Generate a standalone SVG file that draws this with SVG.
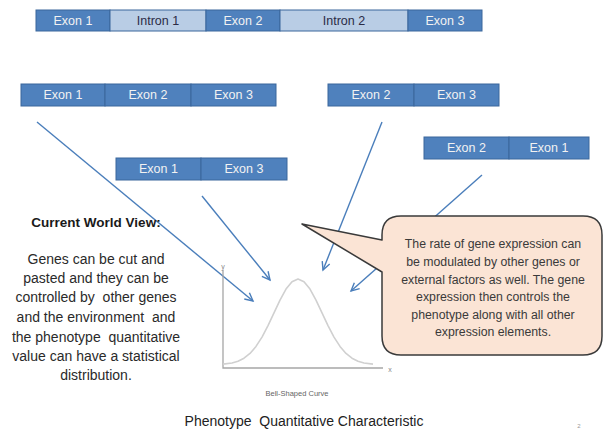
<svg xmlns="http://www.w3.org/2000/svg" width="604" height="429" viewBox="0 0 604 429">
<style>
text{white-space:pre}
.ex{fill:#4f81bd;stroke:#3b679c;stroke-width:1}
.in{fill:#b9cde5;stroke:#3b679c;stroke-width:1}
.lb{font-family:"Liberation Sans",Arial,sans-serif;font-size:12.5px;text-anchor:middle;dominant-baseline:central}
.lw{fill:#f2f2f2}
.ld{fill:#2b2b45}
.body{font-family:"Liberation Sans",Arial,sans-serif;font-size:14px;text-anchor:middle;fill:#2a2a2a}
.call{font-family:"Liberation Sans",Arial,sans-serif;font-size:12.3px;text-anchor:middle;fill:#3a3a3a}
.con{stroke:#4a7ebb;stroke-width:1.4;fill:none;marker-end:url(#ah)}
</style>
<defs>
<marker id="ah" markerUnits="userSpaceOnUse" markerWidth="12" markerHeight="12" refX="9" refY="5" orient="auto">
<path d="M1,1 L9,5 L1,9" fill="none" stroke="#4a7ebb" stroke-width="1.4"/>
</marker>
</defs>

<g id="gene">
<rect class="ex" x="36" y="10" width="74" height="21"/><text class="lb lw" x="73" y="20.5">Exon 1</text>
<rect class="in" x="110" y="10" width="96" height="21"/><text class="lb ld" x="158" y="20.5">Intron 1</text>
<rect class="ex" x="206" y="10" width="74" height="21"/><text class="lb lw" x="243" y="20.5">Exon 2</text>
<rect class="in" x="280" y="10" width="128" height="21"/><text class="lb ld" x="344" y="20.5">Intron 2</text>
<rect class="ex" x="408" y="10" width="74" height="21"/><text class="lb lw" x="445" y="20.5">Exon 3</text>
</g>

<g id="splice123">
<rect class="ex" x="21" y="84" width="84" height="22"/><text class="lb lw" x="63" y="95">Exon 1</text>
<rect class="ex" x="105" y="84" width="86" height="22"/><text class="lb lw" x="148" y="95">Exon 2</text>
<rect class="ex" x="191" y="84" width="85" height="22"/><text class="lb lw" x="233.5" y="95">Exon 3</text>
</g>

<g id="splice13">
<rect class="ex" x="116" y="158" width="85" height="22"/><text class="lb lw" x="158.5" y="169">Exon 1</text>
<rect class="ex" x="201" y="158" width="86" height="22"/><text class="lb lw" x="244" y="169">Exon 3</text>
</g>

<g id="splice23">
<rect class="ex" x="328" y="84" width="86" height="22"/><text class="lb lw" x="371" y="95">Exon 2</text>
<rect class="ex" x="414" y="84" width="85" height="22"/><text class="lb lw" x="456.5" y="95">Exon 3</text>
</g>

<g id="splice21">
<rect class="ex" x="424" y="137" width="85" height="22"/><text class="lb lw" x="466.5" y="148">Exon 2</text>
<rect class="ex" x="509" y="137" width="80" height="22"/><text class="lb lw" x="549" y="148">Exon 1</text>
</g>

<g id="connectors">
<line class="con" x1="37" y1="122" x2="253" y2="301"/>
<line class="con" x1="202" y1="196" x2="270" y2="280"/>
<line class="con" x1="382" y1="122" x2="323" y2="270"/>
<line class="con" x1="482" y1="175" x2="351" y2="291"/>
</g>

<g id="worldview">
<text x="96" y="227" font-family="'Liberation Sans',Arial,sans-serif" font-size="13.5" font-weight="bold" text-anchor="middle" fill="#1a1a1a">Current World View:</text>
<text class="body" x="96" y="264">Genes can be cut and</text>
<text class="body" x="96" y="283">pasted and they can be</text>
<text class="body" x="96" y="302">controlled by  other genes</text>
<text class="body" x="96" y="322">and the environment  and</text>
<text class="body" x="96" y="342">the phenotype  quantitative</text>
<text class="body" x="96" y="361">value can have a statistical</text>
<text class="body" x="96" y="380">distribution.</text>
</g>

<g id="chart">
<polyline points="223,270 223,368 383,368" fill="none" stroke="#a6a6a6" stroke-width="1.3"/>
<polyline points="223,364.1 232,363 238,361.2 244,358.2 250,353.4 256,346.4 262,337.1 268,325.6 274,312.8 280,300.1 286,289.1 292,281.7 298,279 304,281.7 310,289.1 316,300.1 322,312.8 328,325.6 334,337.1 340,346.4 346,353.4 352,358.2 358,361.2 364,363 373,364.1" fill="none" stroke="#d0d0d0" stroke-width="1.6" stroke-linejoin="round"/>
<text x="223" y="269" font-family="'Liberation Sans',Arial,sans-serif" font-size="7" fill="#888" text-anchor="middle">y</text>
<text x="390" y="372" font-family="'Liberation Sans',Arial,sans-serif" font-size="7" fill="#888" text-anchor="middle">x</text>
<text x="297" y="396" font-family="'Liberation Sans',Arial,sans-serif" font-size="7.5" fill="#666" text-anchor="middle">Bell-Shaped Curve</text>
</g>

<g id="callout">
<path d="M401,216 H583 Q602,216 602,235 V336 Q602,355 583,355 H401 Q382,355 382,336 V272 L302,224 L382,240 V235 Q382,216 401,216 Z" fill="#fbe4d5" stroke="#3a3a3a" stroke-width="1.5" stroke-linejoin="round"/>
<text class="call" x="493" y="248">The rate of gene expression can</text>
<text class="call" x="493" y="266">be modulated by other genes or</text>
<text class="call" x="493" y="284">external factors as well. The gene</text>
<text class="call" x="493" y="301">expression then controls the</text>
<text class="call" x="493" y="319">phenotype along with all other</text>
<text class="call" x="493" y="336">expression elements.</text>
</g>

<text x="304" y="426" font-family="'Liberation Sans',Arial,sans-serif" font-size="14" fill="#222" text-anchor="middle">Phenotype  Quantitative Characteristic</text>
<text x="579" y="428" font-family="'Liberation Sans',Arial,sans-serif" font-size="6" fill="#999" text-anchor="middle">2</text>
</svg>
